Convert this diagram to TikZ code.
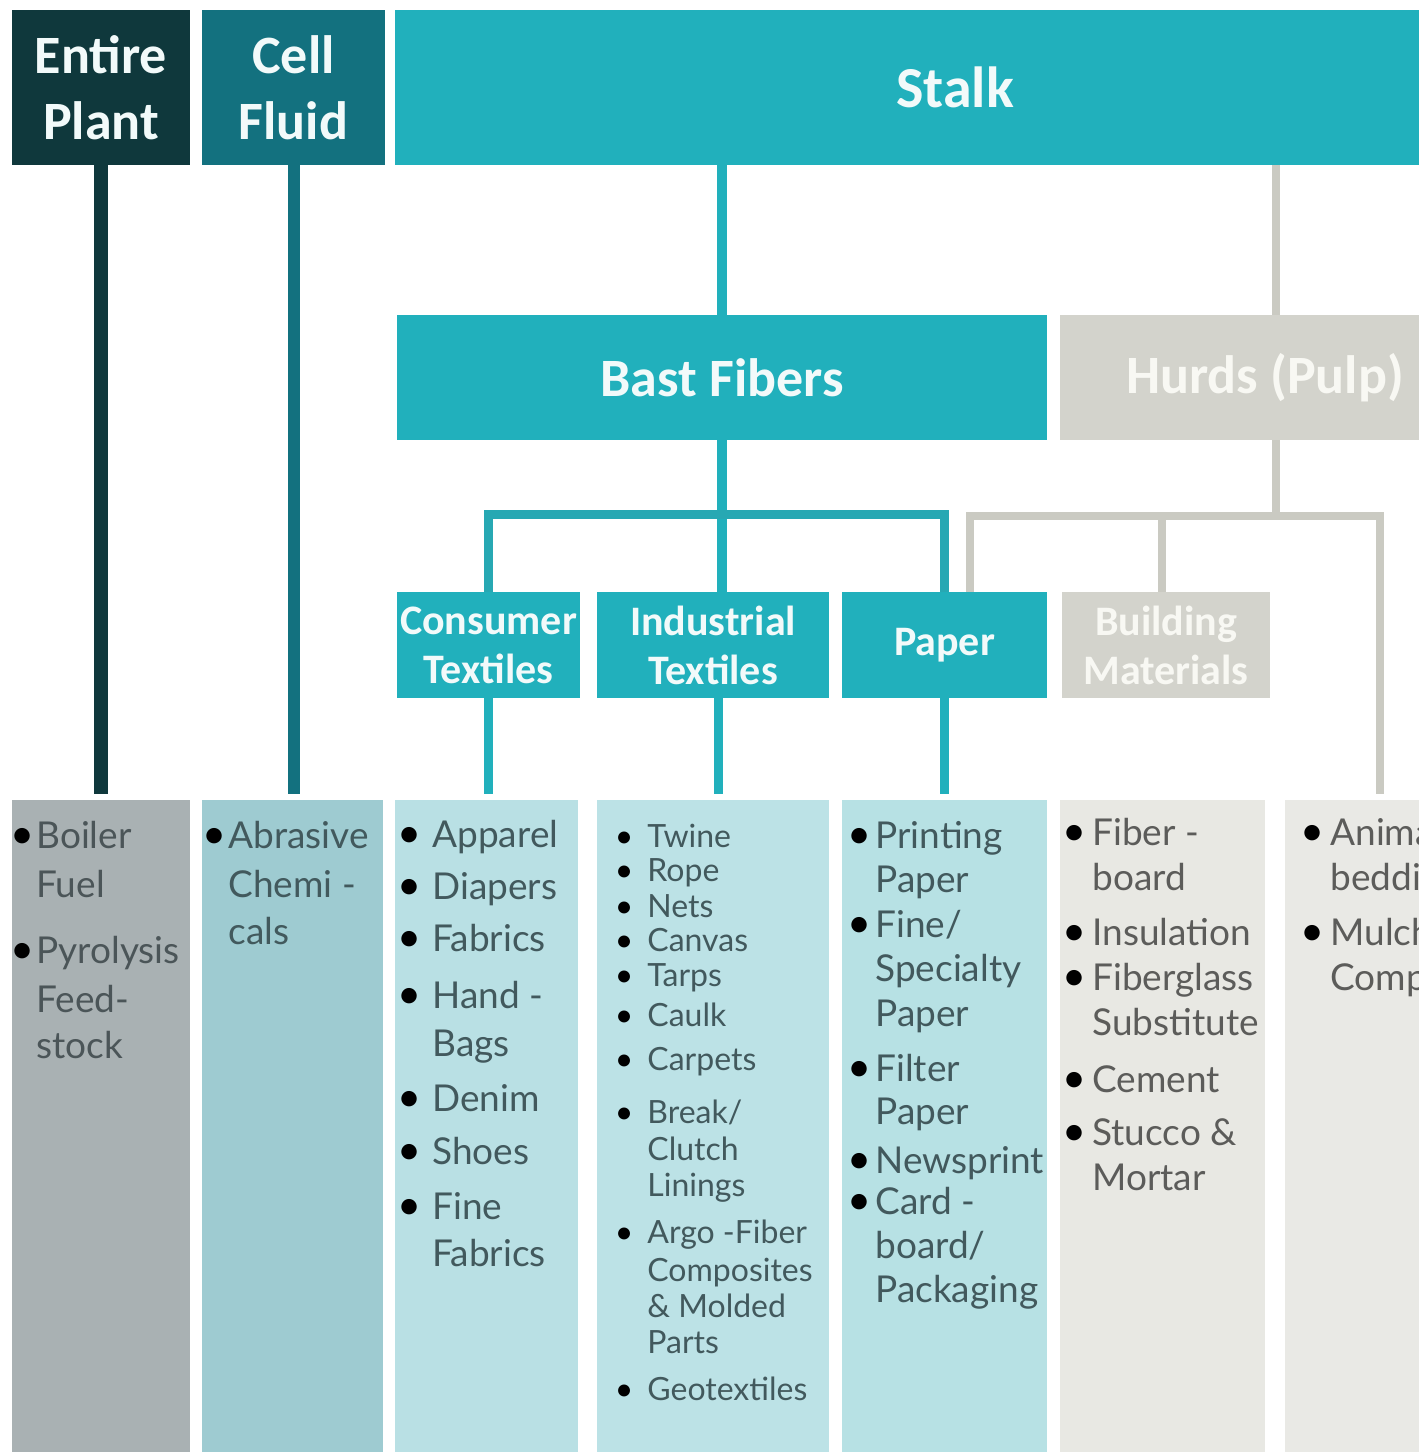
\documentclass[tikz,border=0pt]{standalone}
\usepackage{fontspec}
\setmainfont{Lato}
\newfontfamily\hfont{Carlito}
\usetikzlibrary{calc}
\definecolor{cPlant}{HTML}{0F383C}
\definecolor{cFluid}{HTML}{13717F}
\definecolor{cTeal}{HTML}{21B0BC}
\definecolor{cBus}{HTML}{27A8B3}
\definecolor{cHurd}{HTML}{D3D3CC}
\definecolor{cGline}{HTML}{CACAC2}
\definecolor{cCol1}{HTML}{A9B1B3}
\definecolor{cCol2}{HTML}{9ECBD1}
\definecolor{cCol3}{HTML}{B9E0E4}
\definecolor{cCol4}{HTML}{BCE2E6}
\definecolor{cCol5}{HTML}{B7E1E4}
\definecolor{cCol6}{HTML}{E8E8E3}
\definecolor{cCol7}{HTML}{E9E9E5}
\definecolor{hdrTxt}{HTML}{F2FAFA}
\definecolor{grayHdrTxt}{HTML}{F8F8F3}
\definecolor{colTxt}{HTML}{42595D}
\definecolor{col1Txt}{HTML}{4B5558}
\definecolor{grayTxt}{HTML}{5C5C5A}
\newcommand\bul[1]{\llap{\textcolor{black}{\scalebox{1.12}{\textbullet}}\hspace{#1}}}
\newcommand\sbul[1]{\llap{\textcolor{black}{\textbullet}\hspace{#1}}}
\begin{document}
\begin{tikzpicture}[x=0.5pt,y=-0.5pt,
  hdr/.style={inner sep=0pt, text=hdrTxt, align=center, font=\hfont\bfseries\fontsize{27}{33}\selectfont},
  subhdr/.style={inner sep=0pt, text=hdrTxt, align=center, font=\hfont\bfseries\fontsize{21}{24.5}\selectfont, minimum height=53pt},
  colbox/.style={inner sep=0pt, minimum height=330pt},
  it/.style={inner sep=0pt, anchor=base west, text=colTxt, font=\fontsize{18.5}{22}\selectfont},
  its/.style={it, font=\fontsize{16}{19}\selectfont},
  link/.style={line width=4.5pt, cTeal},
  glink/.style={line width=4pt, cGline}
]
\useasboundingbox (0,0) rectangle (1419,1452);
\clip (0,0) rectangle (1419,1452);
\fill[white] (0,0) rectangle (1419,1452);

% ---------- top headers
\node[hdr, fill=cPlant, minimum width=89pt, minimum height=77.5pt] (plant) at (101,87.5) {Entire\\Plant};
\node[hdr, fill=cFluid, minimum width=91.5pt, minimum height=77.5pt] (fluid) at (293.5,87.5) {Cell\\Fluid};
\node[hdr, fill=cTeal, minimum width=560pt, minimum height=77.5pt, font=\hfont\bfseries\fontsize{29}{33}\selectfont] (stalk) at (955,87.5) {Stalk};

% ---------- second level
\node[hdr, fill=cTeal, minimum width=325pt, minimum height=62.5pt] (bast) at (722,377.5) {Bast Fibers};
\node[hdr, fill=cHurd, text=grayHdrTxt, minimum width=205pt, minimum height=62.5pt] (hurds) at (1265,377.5) {Hurds (Pulp)};

% ---------- third level
\node[subhdr, fill=cTeal, minimum width=91.5pt] (cons) at (488.5,645) {Consumer\\Textiles};
\node[subhdr, fill=cTeal, minimum width=116pt] (indu) at (713,645) {Industrial\\Textiles};
\node[subhdr, fill=cTeal, minimum width=102.5pt] (paper) at (944.5,645) {Paper};
\node[subhdr, fill=cHurd, text=grayHdrTxt, minimum width=104pt] (build) at (1166,645) {Building\\Materials};

% ---------- bottom columns
\node[colbox, fill=cCol1, minimum width=89pt] (col1) at (101,1130) {};
\node[colbox, fill=cCol2, minimum width=90.5pt] (col2) at (292.5,1130) {};
\node[colbox, fill=cCol3, minimum width=91.5pt] (col3) at (486.5,1130) {};
\node[colbox, fill=cCol4, minimum width=116pt] (col4) at (713,1130) {};
\node[colbox, fill=cCol5, minimum width=102.5pt] (col5) at (944.5,1130) {};
\node[colbox, fill=cCol6, minimum width=102.5pt] (col6) at (1162.5,1130) {};
\node[colbox, fill=cCol7, minimum width=107.5pt] (col7) at (1392.5,1130) {};

% ---------- connectors
\draw[line width=7pt, cPlant] (plant.south) -- ([yshift=3pt]col1.north);
\draw[line width=6pt, cFluid] (fluid.south) -- ([yshift=3pt]fluid.south |- col2.north);
\draw[line width=5pt, cTeal] (bast.north) -- (bast.north |- stalk.south);
\draw[line width=5pt, cTeal] (bast.south) -- (bast.south |- indu.north);
\coordinate (tbus) at (722,514);
\draw[link, cBus, line join=miter] (cons.north) |- (tbus) -| (paper.north);
\draw[link] (cons.south) -- ([yshift=3pt]cons.south |- col3.north);
\draw[link] ([xshift=2.5pt]indu.south) -- ([xshift=2.5pt,yshift=3pt]indu.south |- col4.north);
\draw[link] (paper.south) -- ([yshift=3pt]paper.south |- col5.north);

\coordinate (gbus) at (1276,516);
\coordinate (gp) at (970,516);
\coordinate (g7) at (1380,516);
\draw[glink] (gbus |- stalk.south) -- (gbus |- hurds.north);
\draw[glink] (gbus |- hurds.south) -- (gbus);
\draw[glink, line join=miter] (gp |- paper.north) -- (gp) -- (g7) -- ([yshift=3pt]g7 |- col7.north);
\draw[glink] ([xshift=-2pt]build.north) -- ([xshift=-2pt]build.north |- gp);

% ---------- column texts
\foreach \yv/\tx/\bu [count=\i] in {848/Boiler/1,897/Fuel/0,963/Pyrolysis/1,1012/Feed-/0,1058/stock/0}
  \node[it, text=col1Txt] (ta\i) at (36,\yv) {\ifnum\bu=1 \bul{1pt}\fi\tx};

\foreach \yv/\tx/\bu [count=\i] in {848/Abrasive/1,897/Chemi -/0,944/cals/0}
  \node[it] (tb\i) at (228,\yv) {\ifnum\bu=1 \bul{1pt}\fi\tx};

\foreach \yv/\tx/\bu [count=\i] in {847/Apparel/1,899/Diapers/1,951/Fabrics/1,1008/Hand -/1,1056/Bags/0,1111/Denim/1,1164/Shoes/1,1219/Fine/1,1266/Fabrics/0}
  \node[it] (tc\i) at (432,\yv) {\ifnum\bu=1 \bul{5.5pt}\fi\tx};

\foreach \yv/\tx/\bu [count=\i] in {847/Twine/1,881/Rope/1,917/Nets/1,951/Canvas/1,986/Tarps/1,1026/Caulk/1,1070/Carpets/1,1123/Break\slash/1,1160/Clutch/0,1196/Linings/0,1243/Argo -Fiber/1,1281/Composites/0,1317/\& Molded/0,1353/Parts/0,1400/Geotextiles/1}
  \node[its] (td\i) at (647,\yv) {\ifnum\bu=1 \sbul{7pt}\fi\tx};

\foreach \yv/\tx/\bu [count=\i] in {848/Printing/1,892/Paper/0,937/Fine\slash/1,981/Specialty/0,1026/Paper/0,1081/Filter/1,1124/Paper/0,1173/Newsprint/1,1214/Card -/1,1258/board\slash/0,1302/Packaging/0}
  \node[it] (te\i) at (875,\yv) {\ifnum\bu=1 \bul{2pt}\fi\tx};

\foreach \yv/\tx/\bu [count=\i] in {845/Fiber -/1,890/board/0,945/Insulation/1,990/Fiberglass/1,1035/Substitute/0,1092/Cement/1,1145/Stucco \&/1,1190/Mortar/0}
  \node[it, text=grayTxt] (tf\i) at (1092,\yv) {\ifnum\bu=1 \bul{3pt}\fi\tx};

\foreach \yv/\tx/\bu [count=\i] in {845/Animal/1,890/bedding/0,945/Mulch/1,990/Compost/0}
  \node[it, text=grayTxt] (tg\i) at (1330,\yv) {\ifnum\bu=1 \bul{3pt}\fi\tx};
\end{tikzpicture}
\end{document}
